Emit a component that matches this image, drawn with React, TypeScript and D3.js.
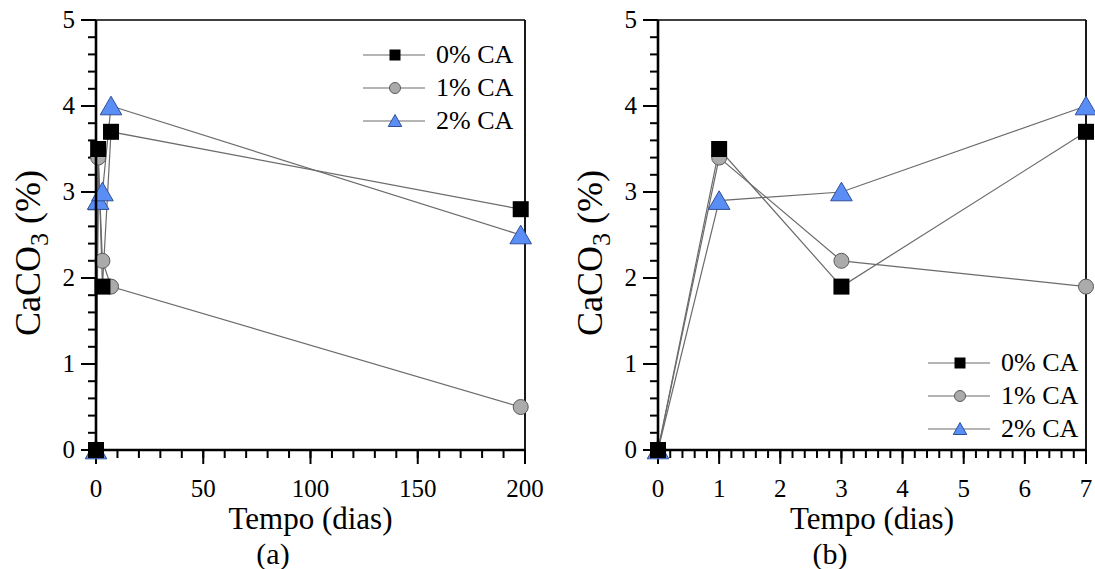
import React from "react";
import * as d3 from "d3";

const seriesNames = ["0% CA", "1% CA", "2% CA"];
const daysA = [0, 1, 3, 7, 198];
const daysB = [0, 1, 3, 7];
const ca0 = [0, 3.5, 1.9, 3.7, 2.8];
const ca1 = [0, 3.4, 2.2, 1.9, 0.5];
const ca2 = [0, 2.9, 3.0, 4.0, 2.5];
const seriesValues = [ca0, ca1, ca2];
const yTicks = [0, 1, 2, 3, 4, 5];
const xTicksA = [0, 50, 100, 150, 200];
const xTicksB = [0, 1, 2, 3, 4, 5, 6, 7];

const FONT = "'Liberation Serif', 'Times New Roman', serif";
const LINE = "#6b6b6b";

type MarkerProps = { kind: number; x: number; y: number; s: number };
function Marker({ kind, x, y, s }: MarkerProps) {
  if (kind === 0) {
    return <rect x={x - s / 2} y={y - s / 2} width={s} height={s} fill="#000" />;
  }
  if (kind === 1) {
    return <circle cx={x} cy={y} r={s / 2} fill="#ababab" stroke="#5a5a5a" strokeWidth={1} />;
  }
  const w = s * 1.35;
  const h = s * 1.1;
  return (
    <polygon
      points={`${x},${y - h / 2 - 1} ${x - w / 2},${y + h / 2} ${x + w / 2},${y + h / 2}`}
      fill="#5b8ef5"
      stroke="#2f4f9a"
      strokeWidth={1}
    />
  );
}

type PanelProps = {
  x0: number;
  x1: number;
  domain: [number, number];
  days: number[];
  nPoints: number;
  majorX: number[];
  minorStep: number;
  label: string;
  labelX: number;
  legendX: number;
  legendY: number;
};

function Panel({ x0, x1, domain, days, nPoints, majorX, minorStep, label, labelX, legendX, legendY }: PanelProps) {
  const top = 20;
  const bottom = 450;
  const x = d3.scaleLinear().domain(domain).range([x0, x1]);
  const y = d3.scaleLinear().domain([0, 5]).range([bottom, top]);
  const minorX = d3.range(domain[0], domain[1] + minorStep / 2, minorStep);
  const minorY = d3.range(0, 5.0001, 0.2);
  const line = d3
    .line<[number, number]>()
    .x((d) => x(d[0]))
    .y((d) => y(d[1]));
  const order = [2, 1, 0];
  return (
    <g fontFamily={FONT}>
      {/* frame */}
      <line x1={x0} x2={x1} y1={top} y2={top} stroke="#000" strokeWidth={1.6} />
      <line x1={x1} x2={x1} y1={top} y2={bottom} stroke="#000" strokeWidth={1.8} />
      {/* minor ticks */}
      {minorY.map((v, i) => (
        <line key={"my" + i} x1={x0 - 8} x2={x0} y1={y(v)} y2={y(v)} stroke="#000" strokeWidth={2} />
      ))}
      {minorX.map((v, i) => (
        <line key={"mx" + i} x1={x(v)} x2={x(v)} y1={bottom} y2={bottom + 8} stroke="#000" strokeWidth={2} />
      ))}
      {yTicks.map((v) => (
        <g key={"y" + v}>
          <line x1={x0 - 15} x2={x0} y1={y(v)} y2={y(v)} stroke="#000" strokeWidth={2} />
          <text x={x0 - 21} y={y(v) + 8} textAnchor="end" fontSize={25}>
            {v}
          </text>
        </g>
      ))}
      {majorX.map((v) => (
        <g key={"x" + v}>
          <line x1={x(v)} x2={x(v)} y1={bottom} y2={bottom + 14} stroke="#000" strokeWidth={2} />
          <text x={x(v)} y={497} textAnchor="middle" fontSize={25}>
            {v}
          </text>
        </g>
      ))}
      {/* data lines */}
      {order.map((si) => {
        const pts: [number, number][] = days.slice(0, nPoints).map((d, i) => [d, seriesValues[si][i]]);
        return <path key={"l" + si} d={line(pts) || ""} fill="none" stroke={LINE} strokeWidth={1.2} />;
      })}
      {order.map((si) =>
        days.slice(0, nPoints).map((d, i) => (
          <Marker key={"m" + si + "-" + i} kind={si} x={x(d)} y={y(seriesValues[si][i])} s={si === 1 ? 15 : 16} />
        ))
      )}
      {/* axes */}
      <line x1={x0} x2={x0} y1={top} y2={bottom + 1} stroke="#000" strokeWidth={2.6} />
      <line x1={x0 - 1} x2={x1} y1={bottom} y2={bottom} stroke="#000" strokeWidth={2.6} />
      {/* legend */}
      {seriesNames.map((n, i) => {
        const cy = legendY + i * 33;
        return (
          <g key={"lg" + i}>
            <line x1={legendX} x2={legendX + 62} y1={cy} y2={cy} stroke={LINE} strokeWidth={1.2} />
            <Marker kind={i} x={legendX + 32} y={cy} s={i === 2 ? 10 : 11} />
            <text x={legendX + 73} y={cy + 8} fontSize={26}>
              {n}
            </text>
          </g>
        );
      })}
      {/* axis titles */}
      <text x={(x0 + x1) / 2} y={529} textAnchor="middle" fontSize={31}>
        Tempo (dias)
      </text>
      <text x={labelX} y={564} textAnchor="middle" fontSize={30}>
        {label}
      </text>
      <text transform={`translate(${x0 - 56},253) rotate(-90)`} textAnchor="middle" fontSize={36}>
        CaCO
        <tspan fontSize={26} dy={8}>
          3
        </tspan>
        <tspan dy={-8}> (%)</tspan>
      </text>
    </g>
  );
}

export default function App() {
  return (
    <svg width={1095} height={569} style={{ position: "absolute", left: 0, top: 0, background: "#fff" }}>
      <rect width={1095} height={569} fill="#fff" />
      <Panel
        x0={96}
        x1={525}
        domain={[0, 200]}
        days={daysA}
        nPoints={5}
        majorX={xTicksA}
        minorStep={10}
        label="(a)"
        labelX={273}
        legendX={363}
        legendY={55}
      />
      <Panel
        x0={658}
        x1={1086}
        domain={[0, 7]}
        days={daysB}
        nPoints={4}
        majorX={xTicksB}
        minorStep={0.2}
        label="(b)"
        labelX={830}
        legendX={928}
        legendY={363}
      />
    </svg>
  );
}
